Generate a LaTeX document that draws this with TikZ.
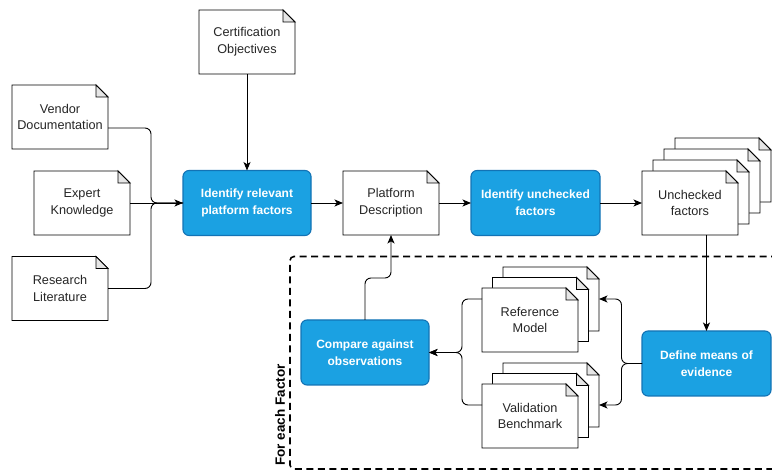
\documentclass[tikz,border=0pt]{standalone}
\usepackage{fontspec}
\setmainfont{Liberation Sans}
\usetikzlibrary{arrows.meta}
\pgfdeclarelayer{bg}
\pgfsetlayers{bg,main}
\definecolor{procblue}{HTML}{1BA1E2}
\definecolor{procedge}{HTML}{1273B5}
\definecolor{foldgray}{HTML}{E6E6E6}
\tikzset{
  docbox/.style={rectangle, minimum width=96pt, minimum height=64pt, inner sep=0pt, outer sep=0pt,
    align=center, text=black!85, font=\fontsize{12.7pt}{16.7pt}\selectfont},
  procbox/.style={rectangle, rounded corners=6pt, fill=procblue, draw=procedge, line width=1.1pt,
    minimum width=128pt, minimum height=65pt, inner sep=0pt, outer sep=0pt, align=center, text=white,
    font=\fontsize{12pt}{16.7pt}\selectfont\bfseries},
  docline/.style={draw=black, line width=0.9pt},
  conn/.style={draw=black, line width=0.9pt, rounded corners=6pt, -{Stealth[length=8.5pt,width=7pt,inset=2.2pt]}},
  plainconn/.style={draw=black, line width=0.9pt, rounded corners=6pt},
  frameline/.style={draw=black, line width=1.6pt, dash pattern=on 7pt off 4.5pt, rounded corners=4pt},
  looplabel/.style={rotate=90, font=\fontsize{13.5pt}{16pt}\selectfont\bfseries, inner sep=0pt}
}
% page outline with folded corner, drawn on the background layer
\newcommand\pagesheet[3]{%
  \begin{pgfonlayer}{bg}
    \path[docline, fill=white] ([shift={(#2,#3)}]#1.south west) -- ([shift={(#2,#3)}]#1.north west)
      -- ([shift={(#2-12,#3)}]#1.north east) -- ([shift={(#2,#3+12)}]#1.north east)
      -- ([shift={(#2,#3)}]#1.south east) -- cycle;
    \path[docline, fill=foldgray] ([shift={(#2-12,#3)}]#1.north east) -- ([shift={(#2-12,#3+12)}]#1.north east)
      -- ([shift={(#2,#3+12)}]#1.north east) -- cycle;
  \end{pgfonlayer}}
\begin{document}
\begin{tikzpicture}[x=1pt, y=-1pt]
\useasboundingbox (0,0) rectangle (772,470);

% documents
\node[docbox] (cert) at (247,42) {Certification\\Objectives};
\pagesheet{cert}{0}{0}
\node[docbox] (ven) at (60,117) {Vendor\\Documentation};
\pagesheet{ven}{0}{0}
\node[docbox] (exp) at (82,203) {Expert\\Knowledge};
\pagesheet{exp}{0}{0}
\node[docbox] (res) at (60,288.5) {Research\\Literature};
\pagesheet{res}{0}{0}
\node[docbox] (pd) at (391,203) {Platform\\Description};
\pagesheet{pd}{0}{0}
\node[docbox] (uf) at (690,203) {Unchecked\\factors};
\pagesheet{uf}{33}{-33}
\pagesheet{uf}{22}{-22}
\pagesheet{uf}{11}{-11}
\pagesheet{uf}{0}{0}
\node[docbox] (rm) at (530,320) {Reference\\Model};
\pagesheet{rm}{21}{-21}
\pagesheet{rm}{10.5}{-10.5}
\pagesheet{rm}{0}{0}
\node[docbox] (vb) at (530,416) {Validation\\Benchmark};
\pagesheet{vb}{21}{-21}
\pagesheet{vb}{10.5}{-10.5}
\pagesheet{vb}{0}{0}

% process steps
\node[procbox] (irp) at (247,203) {Identify relevant\\platform factors};
\node[procbox, minimum width=129pt] (iuf) at (535.5,203) {Identify unchecked\\factors};
\node[procbox, minimum width=129pt] (dme) at (706.5,363.5) {Define means of\\evidence};
\node[procbox] (cmp) at (365,352.5) {Compare against\\observations};

% loop frame and label
\draw[frameline] (778,256.5) -- (290,256.5) -- (290,469) -- (778,469);
\node[looplabel] (fef) at (280,415) {For each Factor};

% connectors
\coordinate (jx) at (151,203);
\draw[conn] (cert.south) -- (irp.north);
\draw[plainconn] ([shift={(0,11)}]ven.east) -| (jx) -- (irp.west);
\draw[plainconn] (res.east) -| (jx) -- (irp.west);
\draw[conn] (exp.east) -- (irp.west);
\draw[conn] (irp.east) -- (pd.west);
\draw[conn] (pd.east) -- (iuf.west);
\draw[conn] (iuf.east) -- (uf.west);
\draw[conn] (uf.south -| dme.north) -- (dme.north);
\draw[conn] (dme.west) -- ++(-20.5,0) |- ([shift={(21,-21)}]rm.east);
\draw[conn] (dme.west) -- ++(-20.5,0) |- ([shift={(21,-11)}]vb.east);
\draw[conn] ([shift={(0,-21)}]rm.west) -- ++(-20,0) |- (cmp.east);
\draw[conn] ([shift={(0,-11)}]vb.west) -- ++(-20,0) |- (cmp.east);
\draw[conn] (cmp.north) -- ++(0,-42) -| (pd.south);
\end{tikzpicture}
\end{document}
